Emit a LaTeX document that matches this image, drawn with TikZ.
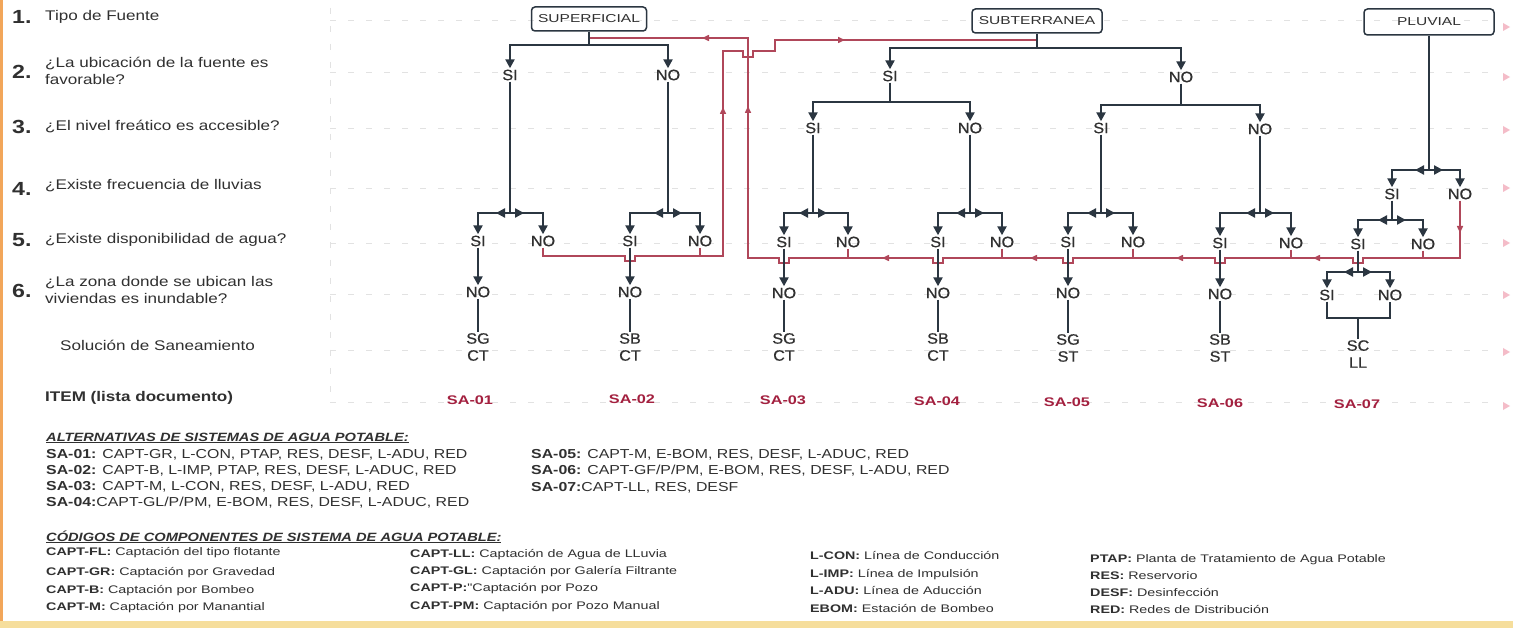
\documentclass[tikz,border=0pt]{standalone}
\usepackage{fontspec}
\setmainfont{Liberation Sans}
\newfontfamily\fW[FakeStretch=1.22]{Liberation Sans}
\newfontfamily\fBx[FakeStretch=1.35]{Liberation Sans}
\newfontfamily\fC[FakeStretch=1.3]{Liberation Sans}
\newfontfamily\fT[FakeStretch=1.08,FakeBold=0.6]{Liberation Sans}
\usetikzlibrary{arrows.meta,decorations.markings}
\definecolor{treec}{HTML}{2B3641}
\definecolor{redc}{HTML}{B0475A}
\definecolor{txtc}{HTML}{303030}
\definecolor{sac}{HTML}{A3203F}
\definecolor{guide}{HTML}{E2E2E2}
\definecolor{pinkm}{HTML}{F4BCC8}
\definecolor{edgeL}{HTML}{F2A65A}
\definecolor{edgeB}{HTML}{F6DE9C}
\newcommand\redtip{\arrow[redc]{Triangle[length=7pt,width=6pt]}}
\newcommand\mysplit[5]{%
  \draw[tree] (#1.south) -- (#1.south |- 0,#2) coordinate (#1j);
  \draw[tree,arr,#5] (#1j) -| (#3.north);
  \draw[tree,arr,#5] (#1j) -| (#4.north);
}
\begin{document}
\begin{tikzpicture}[x=1pt,y=-1pt,
  tree/.style={draw=treec,line width=2.7pt},
  arr/.style={-{Triangle[length=9pt,width=9pt]}},
  mid/.style={postaction={decorate,decoration={markings,mark=at position 14pt with {\arrow[treec]{Triangle[length=9pt,width=9pt]}}}}},
  redl/.style={draw=redc,line width=1.5pt},
  tl/.style={font=\fT\fontsize{15}{15}\selectfont,inner sep=1.2pt,text=txtc},
  sol/.style={font=\fT\fontsize{15}{17}\selectfont,align=center,inner sep=1pt,text=txtc},
  sa/.style={font=\fC\bfseries\fontsize{12.5}{12.5}\selectfont,text=sac,inner sep=1pt},
  box/.style={draw=treec,line width=1.5pt,rounded corners=3.5pt,minimum height=24pt,font=\fBx\fontsize{11.5}{11.5}\selectfont,text=txtc,inner sep=0pt},
  rowlab/.style={anchor=west,font=\fW\fontsize{14}{17}\selectfont,text=txtc,align=left,inner sep=0pt},
  num/.style={anchor=west,font=\fW\bfseries\fontsize{19}{19}\selectfont,text=txtc,inner sep=0pt},
  leg/.style={anchor=base west,font=\fW\fontsize{13}{13}\selectfont,text=txtc,inner sep=0pt},
  hdr/.style={anchor=base west,font=\fW\bfseries\itshape\fontsize{12}{12}\selectfont,text=txtc,inner sep=0pt},
  code/.style={anchor=base west,font=\fC\fontsize{11}{11}\selectfont,text=txtc,inner sep=0pt},
  guideline/.style={draw=guide,line width=0.8pt,dash pattern=on 6pt off 12pt},
]
\useasboundingbox (0,0) rectangle (1513,628);
\fill[white] (0,0) rectangle (1513,628);
\fill[edgeL] (0,0) rectangle (3,628);
\fill[edgeB] (0,621) rectangle (1513,628);

% faint guides
\foreach \yy in {20,72,128,188,243,294,350,402}
  \draw[guideline] (330,\yy) -- (1495,\yy);
\draw[guideline] (330,8) -- (330,400);
\foreach \yy in {27,77,130,188,243,295,352,406}
  \fill[pinkm] (1503,\yy-4) -- (1510,\yy) -- (1503,\yy+4) -- cycle;

% row labels
\node[num] (n1) at (12,17) {1.};
\node[rowlab] (q1) at (45,17) {Tipo de Fuente};
\node[num] (n2) at (12,72) {2.};
\node[rowlab] (q2) at (45,71) {¿La ubicación de la fuente es\\favorable?};
\node[num] (n3) at (12,127) {3.};
\node[rowlab] (q3) at (45,127) {¿El nivel freático es accesible?};
\node[num] (n4) at (12,189) {4.};
\node[rowlab] (q4) at (45,186) {¿Existe frecuencia de lluvias};
\node[num] (n5) at (12,240) {5.};
\node[rowlab] (q5) at (45,240) {¿Existe disponibilidad de agua?};
\node[num] (n6) at (12,291) {6.};
\node[rowlab] (q6) at (45,290) {¿La zona donde se ubican las\\viviendas es inundable?};
\node[rowlab] (q7) at (60,345) {Solución de Saneamiento};
\node[rowlab,font=\fW\bfseries\fontsize{14}{17}\selectfont] (q8) at (45,398) {ITEM (lista documento)};

% boxes
\node[box,minimum width=115pt] (sup) at (589,19) {SUPERFICIAL};
\node[box,minimum width=130pt] (sub) at (1037,21) {SUBTERRANEA};
\node[box,minimum width=130pt,minimum height=26pt] (plu) at (1429,22) {PLUVIAL};

% superficial nodes
\node[tl] (s2si) at (510,75) {SI};
\node[tl] (s2no) at (668,75) {NO};
\node[tl] (s5si1) at (478,241) {SI};
\node[tl] (s5no1) at (543,241) {NO};
\node[tl] (s5si2) at (630,241) {SI};
\node[tl] (s5no2) at (700,241) {NO};
\node[tl] (s6no1) at (478,292) {NO};
\node[tl] (s6no2) at (630,292) {NO};

% subterranea nodes
\node[tl] (t2si) at (890,76) {SI};
\node[tl] (t2no) at (1181,77) {NO};
\node[tl] (t3si1) at (813,128) {SI};
\node[tl] (t3no1) at (970,128) {NO};
\node[tl] (t3si2) at (1101,128) {SI};
\node[tl] (t3no2) at (1260,129) {NO};
\node[tl] (t5si1) at (784,242) {SI};
\node[tl] (t5no1) at (848,242) {NO};
\node[tl] (t5si2) at (938,242) {SI};
\node[tl] (t5no2) at (1002,242) {NO};
\node[tl] (t5si3) at (1068,242) {SI};
\node[tl] (t5no3) at (1133,242) {NO};
\node[tl] (t5si4) at (1220,243) {SI};
\node[tl] (t5no4) at (1291,243) {NO};
\node[tl] (t6no1) at (784,293) {NO};
\node[tl] (t6no2) at (938,293) {NO};
\node[tl] (t6no3) at (1068,293) {NO};
\node[tl] (t6no4) at (1220,294) {NO};

% pluvial nodes
\node[tl] (p4si) at (1392,194) {SI};
\node[tl] (p4no) at (1460,194) {NO};
\node[tl] (p5si) at (1358,244) {SI};
\node[tl] (p5no) at (1423,244) {NO};
\node[tl] (p6si) at (1327,295) {SI};
\node[tl] (p6no) at (1390,295) {NO};

% solutions
\node[sol] (sol1) at (478,347) {SG\\CT};
\node[sol] (sol2) at (630,347) {SB\\CT};
\node[sol] (sol3) at (784,347) {SG\\CT};
\node[sol] (sol4) at (938,347) {SB\\CT};
\node[sol] (sol5) at (1068,348) {SG\\ST};
\node[sol] (sol6) at (1220,348) {SB\\ST};
\node[sol] (sol7) at (1358,354) {SC\\LL};

% items
\node[sa] (sa1) at (470,400) {SA-01};
\node[sa] (sa2) at (632,399) {SA-02};
\node[sa] (sa3) at (783,400) {SA-03};
\node[sa] (sa4) at (937,401) {SA-04};
\node[sa] (sa5) at (1067,402) {SA-05};
\node[sa] (sa6) at (1220,403) {SA-06};
\node[sa] (sa7) at (1357,404) {SA-07};

% red return paths
\draw[redl,postaction={decorate,decoration={markings,
   mark=at position -393pt with {\redtip},
   mark=at position -192pt with {\redtip}}}]
 (s5no1.south) -- (s5no1.south |- 0,256) -- (625,256) -- ++(0,5) -- ++(10,0) -- ++(0,-5)
 -- (723,256) -- (723,51) -- (743,51) -- ++(0,6) -- ++(10,0) -- ++(0,-6)
 -- (775,51) -- (775,40) -- (sub.south |- 0,40);
\draw[redl] (s5no2.south) -- (s5no2.south |- 0,256);

\draw[redl,postaction={decorate,decoration={markings,
   mark=at position -1166pt with {\redtip},
   mark=at position -984pt with {\redtip},
   mark=at position -837pt with {\redtip},
   mark=at position -681pt with {\redtip},
   mark=at position -523pt with {\redtip},
   mark=at position -227pt with {\redtip},
   mark=at position -113pt with {\redtip}}}]
 (p4no.south) -- (p4no.south |- 0,258)
 -- (1363,258) -- ++(0,5) -- ++(-10,0) -- ++(0,-5)
 -- (1225,258) -- ++(0,5) -- ++(-10,0) -- ++(0,-5)
 -- (1073,258) -- ++(0,5) -- ++(-10,0) -- ++(0,-5)
 -- (943,258) -- ++(0,5) -- ++(-10,0) -- ++(0,-5)
 -- (789,258) -- ++(0,5) -- ++(-10,0) -- ++(0,-5)
 -- (748,258) -- (748,38) -- (sup.south |- 0,38);
\foreach \n in {t5no1,t5no2,t5no3,t5no4,p5no}
  \draw[redl] (\n.south) -- (\n.south |- 0,258);

% superficial tree
\mysplit{sup}{45}{s2si}{s2no}{}
\mysplit{s2si}{213}{s5si1}{s5no1}{mid}
\mysplit{s2no}{213}{s5si2}{s5no2}{mid}
\draw[tree,arr] (s5si1.south) -- (s6no1.north);
\draw[tree,arr] (s5si2.south) -- (s6no2.north);
\draw[tree] (s6no1.south) -- (sol1.north);
\draw[tree] (s6no2.south) -- (sol2.north);

% subterranea tree
\mysplit{sub}{48}{t2si}{t2no}{}
\mysplit{t2si}{102}{t3si1}{t3no1}{}
\mysplit{t2no}{105}{t3si2}{t3no2}{}
\mysplit{t3si1}{213}{t5si1}{t5no1}{mid}
\mysplit{t3no1}{213}{t5si2}{t5no2}{mid}
\mysplit{t3si2}{213}{t5si3}{t5no3}{mid}
\mysplit{t3no2}{213}{t5si4}{t5no4}{mid}
\draw[tree,arr] (t5si1.south) -- (t6no1.north);
\draw[tree,arr] (t5si2.south) -- (t6no2.north);
\draw[tree,arr] (t5si3.south) -- (t6no3.north);
\draw[tree,arr] (t5si4.south) -- (t6no4.north);
\draw[tree] (t6no1.south) -- (sol3.north);
\draw[tree] (t6no2.south) -- (sol4.north);
\draw[tree] (t6no3.south) -- (sol5.north);
\draw[tree] (t6no4.south) -- (sol6.north);

% pluvial tree
\mysplit{plu}{170}{p4si}{p4no}{mid}
\mysplit{p4si}{220}{p5si}{p5no}{mid}
\mysplit{p5si}{272}{p6si}{p6no}{mid}
\coordinate (pj) at (1358,318);
\draw[tree] (p6si.south) |- (pj) -| (p6no.south);
\draw[tree] (pj) -- (sol7.north);

% legend: alternatives
\node[hdr] (h1) at (46,441) {\underline{ALTERNATIVAS DE SISTEMAS DE AGUA POTABLE:}};
\node[leg] (a1) at (46,458) {\textbf{SA-01:} CAPT-GR, L-CON, PTAP, RES, DESF, L-ADU, RED};
\node[leg] (a2) at (46,474) {\textbf{SA-02:} CAPT-B, L-IMP, PTAP, RES, DESF, L-ADUC, RED};
\node[leg] (a3) at (46,490) {\textbf{SA-03:} CAPT-M, L-CON, RES, DESF, L-ADU, RED};
\node[leg] (a4) at (46,506) {\textbf{SA-04:}CAPT-GL/P/PM, E-BOM, RES, DESF, L-ADUC, RED};
\node[leg] (a5) at (531,458) {\textbf{SA-05:} CAPT-M, E-BOM, RES, DESF, L-ADUC, RED};
\node[leg] (a6) at (531,474) {\textbf{SA-06:} CAPT-GF/P/PM, E-BOM, RES, DESF, L-ADU, RED};
\node[leg] (a7) at (531,491) {\textbf{SA-07:}CAPT-LL, RES, DESF};

% legend: codes
\node[hdr] (h2) at (46,541) {\underline{CÓDIGOS DE COMPONENTES DE SISTEMA DE AGUA POTABLE:}};
\node[code] (c11) at (46,555) {\textbf{CAPT-FL:} Captación del tipo flotante};
\node[code] (c12) at (46,575) {\textbf{CAPT-GR:} Captación por Gravedad};
\node[code] (c13) at (46,593) {\textbf{CAPT-B:} Captación por Bombeo};
\node[code] (c14) at (46,610) {\textbf{CAPT-M:} Captación por Manantial};
\node[code] (c21) at (410,557) {\textbf{CAPT-LL:} Captación de Agua de LLuvia};
\node[code] (c22) at (410,574) {\textbf{CAPT-GL:} Captación por Galería Filtrante};
\node[code] (c23) at (410,591) {\textbf{CAPT-P:}"Captación por Pozo};
\node[code] (c24) at (410,609) {\textbf{CAPT-PM:} Captación por Pozo Manual};
\node[code] (c31) at (810,559) {\textbf{L-CON:} Línea de Conducción};
\node[code] (c32) at (810,577) {\textbf{L-IMP:} Línea de Impulsión};
\node[code] (c33) at (810,594) {\textbf{L-ADU:} Línea de Aducción};
\node[code] (c34) at (810,612) {\textbf{EBOM:} Estación de Bombeo};
\node[code] (c41) at (1090,562) {\textbf{PTAP:} Planta de Tratamiento de Agua Potable};
\node[code] (c42) at (1090,579) {\textbf{RES:} Reservorio};
\node[code] (c43) at (1090,596) {\textbf{DESF:} Desinfección};
\node[code] (c44) at (1090,613) {\textbf{RED:} Redes de Distribución};
\end{tikzpicture}
\end{document}
